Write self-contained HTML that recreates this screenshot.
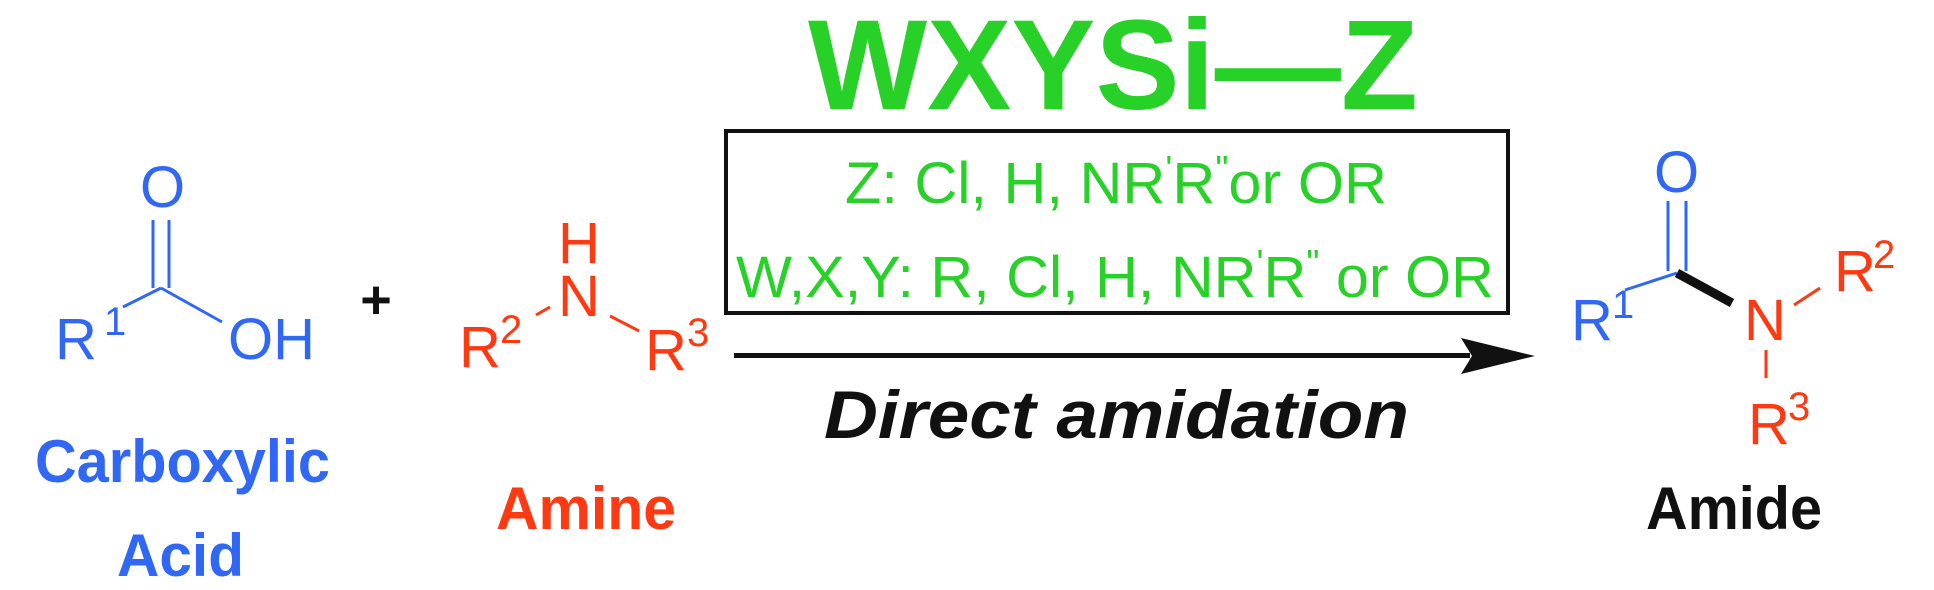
<!DOCTYPE html>
<html><head><meta charset="utf-8"><style>
html,body{margin:0;padding:0;background:#fff;}
svg{display:block;}
text{font-family:"Liberation Sans",Arial,sans-serif;}
</style></head><body>
<svg width="1934" height="590" viewBox="0 0 1934 590" xmlns="http://www.w3.org/2000/svg">
<!-- Title -->
<text x="808" y="109" font-size="128" font-weight="bold" fill="#27d127" textLength="610" lengthAdjust="spacingAndGlyphs">WXYSi—Z</text>
<!-- Box -->
<rect x="726" y="131" width="782" height="182" fill="none" stroke="#111" stroke-width="4"/>
<text x="845" y="203" font-size="58" fill="#27d127" textLength="542" lengthAdjust="spacingAndGlyphs">Z: Cl, H, NR<tspan font-size="36" dy="-22">'</tspan><tspan dy="22">R</tspan><tspan font-size="36" dy="-22">"</tspan><tspan dy="22">or OR</tspan></text>
<text x="736" y="297" font-size="58" fill="#27d127" textLength="758" lengthAdjust="spacingAndGlyphs">W,X,Y: R, Cl, H, NR<tspan font-size="36" dy="-22">'</tspan><tspan dy="22">R</tspan><tspan font-size="36" dy="-22">"</tspan><tspan dy="22"> or OR</tspan></text>
<!-- Arrow -->
<line x1="734" y1="355.5" x2="1470" y2="355.5" stroke="#111" stroke-width="5"/>
<polygon points="1461,338 1535,356 1461,374 1472,356" fill="#111"/>
<text x="824" y="438" font-size="68" font-weight="bold" font-style="italic" fill="#111" textLength="585" lengthAdjust="spacingAndGlyphs">Direct amidation</text>

<!-- Carboxylic acid -->
<g fill="#3068f5" font-size="58">
<text x="140" y="207">O</text>
<text x="55" y="359">R</text>
<text x="104" y="335" font-size="40">1</text>
<text x="228" y="359">OH</text>
</g>
<g stroke="#3068f5" stroke-width="3" fill="none">
<line x1="153" y1="220" x2="153" y2="288"/>
<line x1="169" y1="220" x2="169" y2="288"/>
<line x1="161" y1="288" x2="123" y2="307"/>
<line x1="161" y1="288" x2="222" y2="322"/>
</g>
<text x="35" y="482" font-size="60" font-weight="bold" fill="#3068f5" textLength="295" lengthAdjust="spacingAndGlyphs">Carboxylic</text>
<text x="117" y="576" font-size="60" font-weight="bold" fill="#3068f5" textLength="127" lengthAdjust="spacingAndGlyphs">Acid</text>

<!-- plus -->
<text x="376" y="318" font-size="54" font-weight="bold" fill="#111" text-anchor="middle">+</text>

<!-- Amine -->
<g fill="#ff3a12" font-size="58">
<text x="558" y="263">H</text>
<text x="558" y="316">N</text>
<text x="459" y="367">R</text>
<text x="500" y="343" font-size="40">2</text>
<text x="645" y="370">R</text>
<text x="687" y="346" font-size="40">3</text>
</g>
<g stroke="#ff3a12" stroke-width="3">
<line x1="536" y1="315" x2="550" y2="307"/>
<line x1="610" y1="316" x2="639" y2="331"/>
</g>
<text x="496" y="529" font-size="60" font-weight="bold" fill="#ff3a12" textLength="180" lengthAdjust="spacingAndGlyphs">Amine</text>

<!-- Amide -->
<g font-size="58">
<text x="1654" y="192" fill="#3068f5">O</text>
<text x="1571" y="340" fill="#3068f5">R</text>
<text x="1612" y="318" font-size="40" fill="#3068f5">1</text>
<text x="1744" y="340" fill="#ff3a12">N</text>
<text x="1834" y="291" fill="#ff3a12">R</text>
<text x="1873" y="268" font-size="40" fill="#ff3a12">2</text>
<text x="1748" y="444" fill="#ff3a12">R</text>
<text x="1788" y="420" font-size="40" fill="#ff3a12">3</text>
</g>
<g stroke="#3068f5" stroke-width="3">
<line x1="1668" y1="201" x2="1668" y2="271"/>
<line x1="1686" y1="201" x2="1686" y2="271"/>
<line x1="1677" y1="273" x2="1625" y2="290"/>
</g>
<line x1="1677" y1="273" x2="1732" y2="303" stroke="#111" stroke-width="9"/>
<g stroke="#ff3a12" stroke-width="3">
<line x1="1794" y1="305" x2="1820" y2="288"/>
<line x1="1766" y1="350" x2="1766" y2="378"/>
</g>
<text x="1646" y="529" font-size="60" font-weight="bold" fill="#111" textLength="176" lengthAdjust="spacingAndGlyphs">Amide</text>
</svg>
</body></html>
